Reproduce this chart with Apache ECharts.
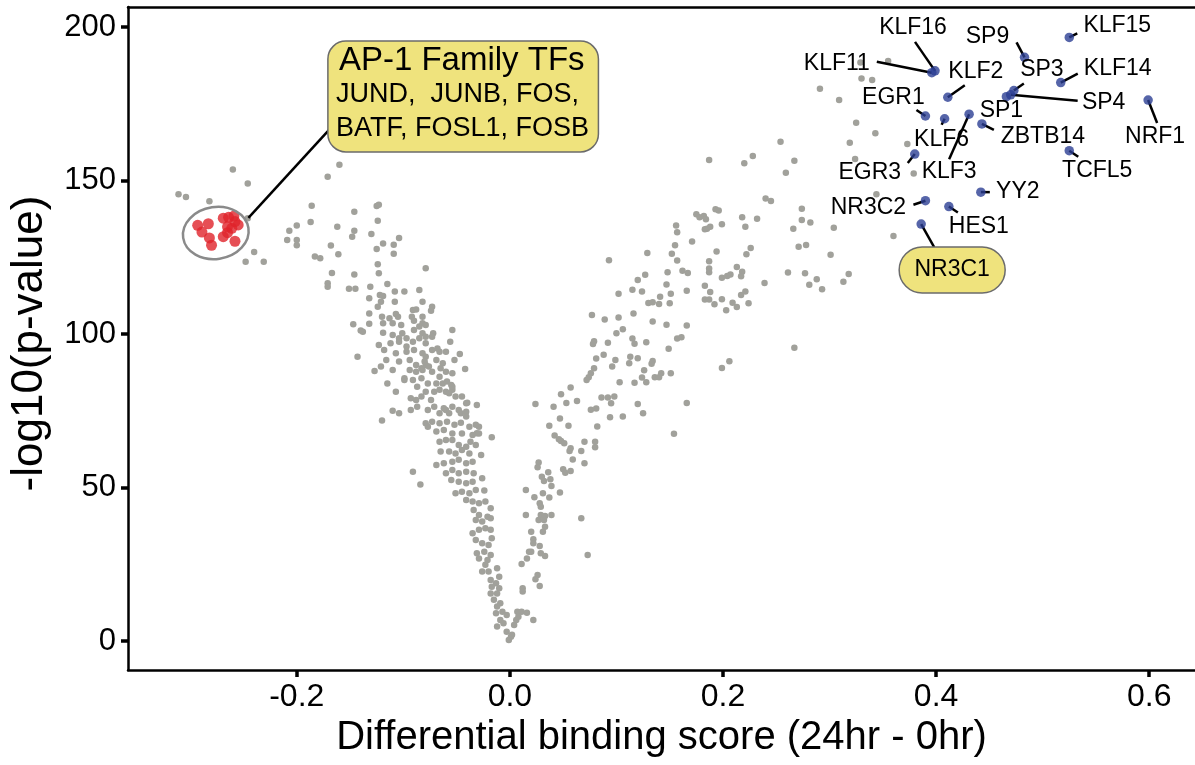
<!DOCTYPE html>
<html><head><meta charset="utf-8">
<script src="https://cdn.jsdelivr.net/npm/echarts@6/dist/echarts.min.js"></script>
<style>html,body{margin:0;padding:0;background:#fff}#c{width:1195px;height:765px}</style>
</head><body><div id="c"></div>
<script>
// ---------------- data ----------------
const xTicks = [-0.2, 0.0, 0.2, 0.4, 0.6];
const yTicks = [0, 50, 100, 150, 200];
const xTitle = 'Differential binding score (24hr - 0hr)';
const yTitle = '-log10(p-value)';

const otherTFs = [
[-0.260,153.6],[-0.246,149.0],[-0.311,145.5],[-0.304,144.6],[-0.282,143.2],[-0.246,137.7],[-0.240,126.7],[-0.248,123.5],[-0.231,123.5],[-0.160,155.1],
[-0.171,151.2],[-0.186,141.8],[-0.187,136.5],[-0.207,133.6],[-0.200,135.3],[-0.209,130.6],[-0.200,130.6],[-0.200,128.9],[-0.162,134.9],[-0.146,139.8],
[-0.125,141.7],[-0.123,142.1],[-0.124,136.9],[-0.146,133.6],[-0.148,131.7],[-0.130,132.6],[-0.168,128.8],[-0.183,125.2],[-0.178,124.7],[-0.161,126.0],
[-0.167,119.9],[-0.171,116.5],[-0.171,115.4],[-0.146,119.4],[-0.124,122.7],[-0.125,127.7],[-0.119,129.5],[-0.109,129.1],[-0.104,131.3],[-0.109,126.1],
[-0.123,119.8],[-0.115,116.3],[-0.151,114.7],[-0.145,114.7],[-0.131,115.4],[-0.099,113.8],[-0.085,114.3],[-0.079,121.4],[-0.122,112.7],[-0.119,112.4],
[-0.121,110.5],[-0.124,108.9],[-0.108,113.8],[-0.108,110.5],[-0.132,111.6],[-0.082,110.5],[-0.073,108.9],[-0.074,107.6],[-0.132,106.7],[-0.132,103.3],
[-0.120,105.6],[-0.113,105.1],[-0.107,106.5],[-0.105,105.6],[-0.091,107.8],[-0.088,108.0],[-0.092,105.6],[-0.082,105.6],[-0.082,103.5],[-0.119,103.5],
[-0.110,103.5],[-0.102,102.9],[-0.147,103.2],[-0.140,101.1],[-0.138,100.7],[-0.119,100.4],[-0.110,99.7],[-0.101,100.2],[-0.104,98.6],[-0.097,98.6],
[-0.090,101.3],[-0.085,102.4],[-0.082,100.2],[-0.079,102.9],[-0.072,100.2],[-0.054,101.3],[-0.123,96.4],[-0.112,97.0],[-0.104,97.5],[-0.091,97.5],
[-0.085,98.6],[-0.079,97.0],[-0.056,97.5],[-0.118,94.8],[-0.107,93.7],[-0.097,94.2],[-0.090,94.8],[-0.082,93.7],[-0.073,94.8],[-0.066,94.2],
[-0.060,94.2],[-0.047,93.5],[-0.143,92.6],[-0.116,91.5],[-0.104,91.0],[-0.094,91.5],[-0.088,89.9],[-0.079,89.9],[-0.069,91.5],[-0.063,90.5],
[-0.052,91.5],[-0.127,87.9],[-0.121,89.4],[-0.110,88.3],[-0.099,85.0],[-0.094,88.3],[-0.088,87.7],[-0.082,88.3],[-0.073,87.7],[-0.066,86.1],
[-0.060,87.7],[-0.054,87.2],[-0.042,88.6],[-0.115,83.9],[-0.107,81.2],[-0.091,85.0],[-0.083,85.6],[-0.077,83.9],[-0.069,83.9],[-0.063,83.9],
[-0.055,83.4],[-0.093,79.1],[-0.083,79.6],[-0.079,81.2],[-0.071,81.2],[-0.066,81.8],[-0.060,81.2],[-0.054,81.8],[-0.051,79.6],[-0.045,79.6],
[-0.031,76.9],[-0.110,75.0],[-0.104,74.2],[-0.120,71.8],[-0.093,75.2],[-0.087,76.3],[-0.077,75.2],[-0.071,76.3],[-0.066,74.2],[-0.060,75.2],
[-0.054,76.3],[-0.048,75.2],[-0.041,74.7],[-0.079,70.9],[-0.073,71.4],[-0.040,77.6],[-0.017,66.4],[-0.029,69.8],[-0.031,67.7],[-0.091,55.1],
[-0.084,51.0],
[-0.090,104.3],[-0.079,99.1],[-0.097,95.9],[-0.073,99.1],[-0.068,95.3],[-0.079,92.6],[-0.076,89.4],[-0.077,69.8],[-0.041,77.4],[-0.046,74.2],
[-0.041,73.1],[-0.057,74.2],[-0.062,75.8],[-0.074,78.5],[-0.088,78.5],[-0.059,84.5],[-0.054,82.8],[-0.057,80.7],[-0.099,85.6],[-0.087,82.8],
[-0.083,88.8],[-0.065,88.8],[-0.080,91.0],
[-0.066,70.9],[-0.059,71.4],[-0.052,70.4],[-0.046,71.1],[-0.038,69.8],[-0.032,70.4],[-0.029,67.6],[-0.069,68.2],[-0.062,68.7],[-0.054,67.6],
[-0.045,67.6],[-0.035,67.1],[-0.066,64.9],[-0.060,65.5],[-0.054,65.5],[-0.048,63.8],[-0.041,63.3],[-0.037,64.9],[-0.032,63.8],[-0.065,61.7],
[-0.057,61.7],[-0.051,61.1],[-0.045,62.2],[-0.038,61.1],[-0.027,60.6],[-0.069,57.3],[-0.062,57.9],[-0.054,58.4],[-0.048,59.0],[-0.041,57.9],
[-0.035,58.4],[-0.060,54.6],[-0.054,55.7],[-0.048,54.6],[-0.041,55.1],[-0.034,54.6],[-0.026,53.0],[-0.055,52.4],[-0.048,51.9],[-0.041,51.4],
[-0.035,51.9],[-0.051,48.1],[-0.045,48.6],[-0.038,48.1],[-0.032,49.2],[-0.024,49.0],[-0.041,45.9],[-0.035,45.4],[-0.029,44.9],[-0.023,45.4],
[-0.018,43.2],[-0.034,42.7],[-0.029,41.0],[-0.021,40.5],[-0.032,39.4],[-0.026,38.9],[-0.018,40.0],[-0.035,35.1],[-0.029,36.2],[-0.023,36.7],
[-0.018,36.2],[-0.017,33.5],[-0.032,32.9],[-0.026,31.8],[-0.020,31.3],[-0.031,28.6],[-0.024,29.1],[-0.018,28.0],[-0.029,26.9],[-0.021,26.4],
[-0.023,24.8],[-0.026,22.6],[-0.020,22.6],[-0.012,23.7],[-0.010,20.9],[-0.018,19.9],[-0.013,18.8],[-0.017,17.7],[-0.010,17.2],[-0.018,15.5],
[-0.012,15.5],[-0.015,13.4],[-0.009,12.3],[-0.012,11.2],[-0.007,9.5],[-0.013,9.0],[-0.003,8.5],[-0.009,6.8],[-0.006,5.8],[-0.012,4.7],
[-0.003,3.0],[0.001,1.4],[-0.001,0.3],[0.002,2.0],[0.007,9.5],[0.011,9.5],[0.016,9.2],[0.006,6.8],[0.008,7.9],[0.004,5.2],
[0.022,6.8],[0.015,49.2],[0.015,41.0],[0.012,17.2],[0.012,16.1],[0.011,25.1],[0.018,29.1],
[0.059,59.1],[0.070,57.9],[0.027,58.1],[0.026,56.6],[0.036,55.0],[0.050,55.9],[0.052,54.8],[0.057,55.4],[0.030,53.5],[0.032,52.1],
[0.038,52.7],[0.039,50.5],[0.023,46.8],[0.031,48.1],[0.037,46.7],[0.047,48.4],[0.028,44.9],[0.029,43.7],[0.029,41.0],[0.033,40.7],
[0.039,41.0],[0.027,39.4],[0.032,39.4],[0.033,37.2],[0.031,35.6],[0.067,40.0],[0.020,35.6],[0.022,33.1],[0.022,31.8],[0.028,30.9],
[0.020,29.1],[0.029,28.6],[0.033,27.7],[0.016,26.9],[0.073,28.0],[0.026,21.5],[0.024,20.1],[0.028,17.9],
[0.057,82.6],[0.048,80.4],[0.063,78.2],[0.053,77.5],[0.086,79.3],[0.092,79.3],[0.098,79.6],[0.095,77.4],[0.120,77.2],[0.125,74.2],
[0.024,77.2],[0.041,76.3],[0.076,75.3],[0.081,75.7],[0.047,72.5],[0.094,72.9],[0.106,73.1],[0.037,70.1],[0.055,70.1],[0.082,69.9],
[0.042,66.9],[0.046,65.7],[0.048,65.1],[0.051,64.4],[0.057,62.8],[0.056,61.9],[0.067,61.9],[0.070,64.9],[0.080,64.9],[0.080,63.1],
[0.166,77.5],[0.154,67.5],[0.267,95.5],[0.199,88.9],[0.206,91.1],[0.077,106.2],[0.089,104.7],[0.102,105.4],[0.116,106.7],[0.134,104.1],
[0.147,103.0],[0.166,102.8],[0.106,101.5],[0.100,100.2],[0.079,97.6],[0.078,96.7],[0.092,97.1],[0.115,98.5],[0.117,96.8],[0.128,97.3],
[0.157,98.5],[0.161,98.9],[0.149,95.2],[0.081,92.0],[0.088,93.2],[0.099,91.5],[0.113,92.6],[0.120,92.1],[0.112,90.5],[0.134,91.2],
[0.133,90.3],[0.096,89.4],[0.079,88.8],[0.126,88.2],[0.076,87.2],[0.074,85.9],[0.072,85.0],[0.124,85.8],[0.128,84.3],[0.136,85.9],
[0.140,85.9],[0.142,87.2],[0.151,87.2],[0.103,84.3],[0.117,84.1],
[0.193,140.6],[0.196,140.2],[0.175,139.0],[0.178,138.0],[0.182,138.4],[0.184,137.4],[0.185,134.3],[0.188,134.9],[0.156,135.3],[0.157,133.1],
[0.171,130.1],[0.155,128.9],[0.152,126.1],[0.157,123.9],[0.148,120.1],[0.162,120.6],[0.167,119.9],[0.147,116.1],[0.151,113.1],[0.166,114.1],
[0.141,112.1],[0.130,110.1],[0.134,110.3],[0.140,109.8],[0.150,110.0],[0.129,126.4],[0.127,119.3],[0.120,117.6],[0.115,114.4],[0.124,113.8],
[0.102,113.1],[0.093,124.0],[0.194,126.9],[0.187,123.7],[0.187,121.3],[0.187,120.1],[0.199,118.3],[0.204,118.9],[0.207,119.4],[0.213,121.8],
[0.218,120.3],[0.217,118.8],[0.222,126.0],[0.226,128.0],[0.239,116.6],[0.183,115.7],[0.188,113.7],[0.183,111.2],[0.187,111.2],[0.192,109.7],
[0.199,111.3],[0.203,107.7],[0.209,110.2],[0.213,108.8],[0.217,112.7],[0.221,113.8],[0.224,110.0],
[0.329,188.4],[0.355,188.9],[0.330,183.2],[0.340,182.7],[0.291,179.9],[0.309,176.2],[0.325,168.8],[0.343,165.4],[0.319,162.3],[0.373,161.9],
[0.324,157.0],[0.379,152.3],[0.344,145.5],[0.360,131.9],[0.254,162.6],[0.228,158.0],[0.220,155.6],[0.187,156.7],[0.267,156.4],[0.259,152.5],
[0.240,144.1],[0.245,143.3],[0.274,140.8],[0.274,137.1],[0.282,136.3],[0.304,134.6],[0.266,134.3],[0.218,138.0],[0.232,137.5],[0.221,134.9],
[0.199,135.7],[0.183,134.1],[0.271,128.4],[0.278,129.0],[0.301,125.8],[0.261,120.0],[0.277,119.8],[0.288,117.8],[0.281,116.0],[0.293,114.6],
[0.318,119.5],[0.313,117.0]
];

const ap1TFs = [
[-0.293,135.4],[-0.283,135.9],[-0.289,133.2],[-0.282,131.3],[-0.280,128.9],[-0.269,137.7],[-0.264,138.0],[-0.259,138.4],
[-0.258,136.6],[-0.255,135.5],[-0.265,134.9],[-0.261,134.4],[-0.265,133.0],[-0.269,131.7],[-0.258,130.2]
];
const ap1Title = 'AP-1 Family TFs';
const ap1Members = ['JUND,  JUNB, FOS,', 'BATF, FOSL1, FOSB'];

const labeledNames = ['KLF15','SP9','KLF16','KLF11','KLF2','SP3','KLF14','SP4','SP1','NRF1',
                      'EGR1','KLF6','KLF3','ZBTB14','EGR3','TCFL5','YY2','NR3C2','HES1','NR3C1'];
const labeledX = [0.525,0.483,0.399,0.396,0.411,0.473,0.517,0.470,0.466,0.599,
                  0.390,0.408,0.431,0.443,0.380,0.525,0.442,0.390,0.412,0.386];
const labeledY = [196.6,190.1,185.7,185.1,177.1,179.3,181.9,177.9,177.3,176.2,
                  171.0,170.1,171.6,168.4,158.6,159.7,146.2,143.4,141.5,135.8];
const highlighted = 'NR3C1';

// ---------------- annotation placement (pixels relative to the point) ----------------
const place = {
  KLF15:{t:[48,-12],l:[8,-4]}, SP9:{t:[-37,-21],l:[-8,-15]}, KLF16:{t:[-22,-43],l:[-20,-29]},
  KLF11:{t:[-95,-9],l:[-55,-11]}, KLF2:{t:[28,-26],l:[17,-12]}, SP3:{t:[28,-21],l:[10,-7]},
  KLF14:{t:[57,-14],l:[17,-9]}, SP4:{t:[93,8],l:[67,6]}, SP1:{t:[-5,14],l:null},
  NRF1:{t:[7,37],l:[9,23]}, EGR1:{t:[-32,-18],l:[-9,-6]}, KLF6:{t:[-3,21],l:[-3,6]},
  KLF3:{t:[-20,58],l:[-20,45]}, ZBTB14:{t:[61,13],l:[12,6]}, EGR3:{t:[-45,19],l:[-7,9]},
  TCFL5:{t:[28,20],l:[9,6]}, YY2:{t:[37,0],l:[9,0]}, NR3C2:{t:[-57,7],l:[-12,4]},
  HES1:{t:[30,20],l:[9,6]}, NR3C1:{t:[31,46],l:[13,23]}
};

const FONT = '"Liberation Sans", Arial, Helvetica, sans-serif';
const chart = echarts.init(document.getElementById('c'), null, {renderer:'canvas'});

const labeledData = labeledNames.map((n,i)=>({name:n, value:[labeledX[i], labeledY[i]]}));
const XMIN = -0.3584, XMAX = 0.643;

chart.setOption({
  animation:false,
  backgroundColor:'#ffffff',
  grid:{left:127, right:-6, top:7, bottom:95},
  xAxis:[{type:'value', min:XMIN, max:XMAX, position:'bottom',
    axisLine:{show:true, onZero:false, lineStyle:{color:'#000', width:2.5}},
    axisTick:{show:true, customValues:xTicks, length:7, lineStyle:{color:'#000', width:3.5}},
    axisLabel:{customValues:xTicks, formatter:v=>v.toFixed(1), fontSize:32, color:'#000', fontFamily:FONT, margin:11},
    splitLine:{show:false},
    name:xTitle, nameLocation:'middle', nameGap:40,
    nameTextStyle:{fontSize:40, color:'#000', fontFamily:FONT}
  },{type:'value', min:XMIN, max:XMAX, position:'top',
    axisLine:{show:true, onZero:false, lineStyle:{color:'#000', width:2.5}},
    axisTick:{show:false}, axisLabel:{show:false}, splitLine:{show:false}
  }],
  yAxis:{type:'value', min:-9.45, max:206.5,
    axisLine:{show:true, onZero:false, lineStyle:{color:'#000', width:2.5}},
    axisTick:{show:true, customValues:yTicks, length:7, lineStyle:{color:'#000', width:3.5}},
    axisLabel:{customValues:yTicks, fontSize:31, color:'#000', fontFamily:FONT, margin:12},
    splitLine:{show:false},
    name:yTitle, nameLocation:'middle', nameGap:76, nameRotate:90,
    nameTextStyle:{fontSize:44, color:'#000', fontFamily:FONT, padding:[0,10,0,0]}
  },
  series:[
    {type:'scatter', name:'other', data:otherTFs, symbolSize:6.5, itemStyle:{color:'#a1a19b', opacity:1}, z:3, silent:true},
    {type:'scatter', name:'AP-1', data:ap1TFs, symbolSize:11, itemStyle:{color:'#e0232b'}, z:4, silent:true},
    {type:'scatter', name:'labeled', data:labeledData, symbolSize:9.5, itemStyle:{color:'#2c3f94'}, z:6, silent:true}
  ]
});

// ---------------- annotations ----------------
const P = v => chart.convertToPixel({seriesIndex:0}, v);
const g = [];
const ellC = P([-0.276,132.9]);
g.push({type:'ellipse', x:ellC[0], y:ellC[1], rotation:0.15, shape:{cx:0, cy:0, rx:33, ry:26},
  style:{fill:null, stroke:'#8a8a8a', lineWidth:2.5}, z:5});
const la = P([-0.2454,137.8]), lb = P([-0.168,167.1]);
g.push({type:'line', shape:{x1:la[0], y1:la[1], x2:lb[0], y2:lb[1]}, style:{stroke:'#000', lineWidth:2.5}, z:5});
const b1 = P([-0.1708,195.4]), b2 = P([0.0831,159.3]);
g.push({type:'rect', shape:{x:b1[0], y:b1[1], width:b2[0]-b1[0], height:b2[1]-b1[1], r:18},
  style:{fill:'#efe37d', stroke:'#6b6b6b', lineWidth:1.5}, z:50});
g.push({type:'text', x:b1[0]+11, y:b1[1]+20, style:{text:ap1Title, font:'33px '+FONT, fill:'#000', align:'left', verticalAlign:'middle'}, z:51});
g.push({type:'text', x:b1[0]+8, y:b1[1]+53, style:{text:ap1Members[0], font:'27px '+FONT, fill:'#000', align:'left', verticalAlign:'middle'}, z:51});
g.push({type:'text', x:b1[0]+8, y:b1[1]+87, style:{text:ap1Members[1], font:'27px '+FONT, fill:'#000', align:'left', verticalAlign:'middle'}, z:51});

labeledNames.forEach((n,i)=>{
  const p = P([labeledX[i], labeledY[i]]);
  const pl = place[n];
  if (pl.l) g.push({type:'line', shape:{x1:p[0], y1:p[1], x2:p[0]+pl.l[0], y2:p[1]+pl.l[1]}, style:{stroke:'#000', lineWidth:2.5}, z:5});
  const tx = p[0]+pl.t[0], ty = p[1]+pl.t[1];
  if (n === highlighted) {
    g.push({type:'rect', shape:{x:tx-53, y:ty-23, width:106, height:46, r:23},
      style:{fill:'#efe37d', stroke:'#6b6b6b', lineWidth:1.5}, z:50});
  }
  g.push({type:'text', x:tx, y:ty, style:{text:n, font:'23px '+FONT, fill:'#000', align:'center', verticalAlign:'middle'}, z:51});
});
chart.setOption({graphic:{elements:g}});
</script></body></html>
